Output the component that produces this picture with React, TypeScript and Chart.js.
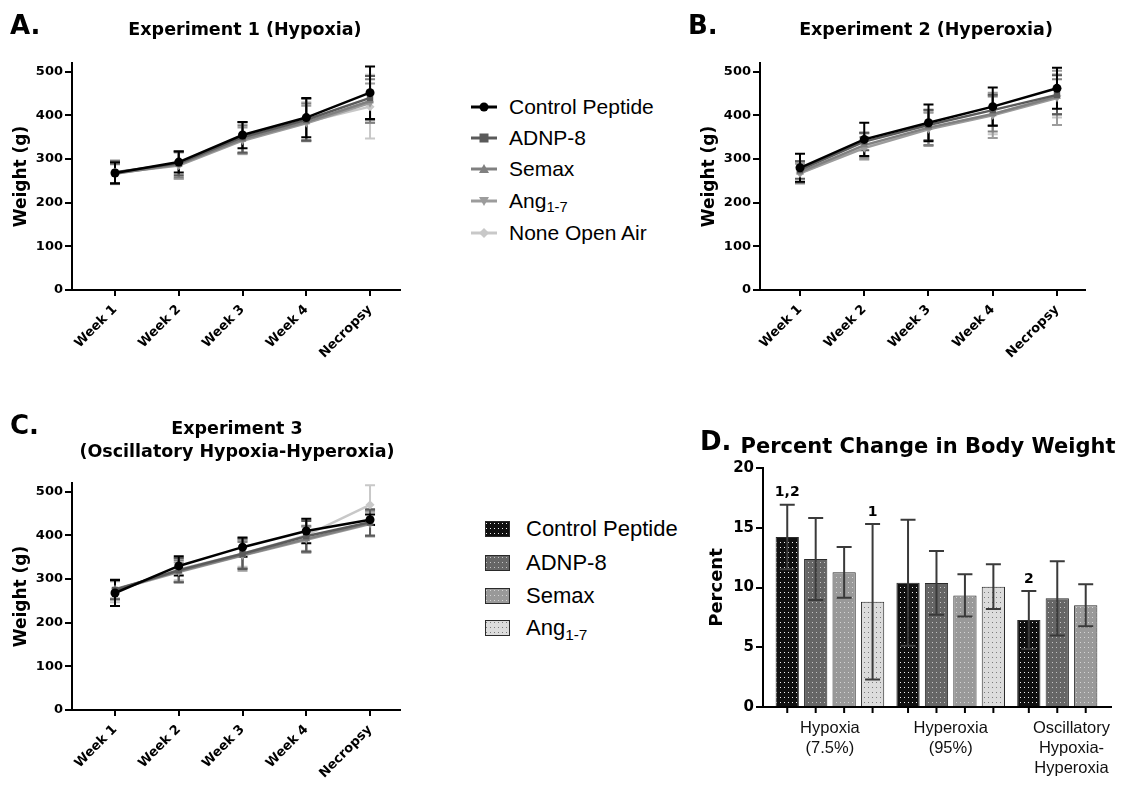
import React, { useEffect, useRef } from 'react';
import { Chart, registerables } from 'chart.js';
Chart.register(...registerables);

// ---------- DATA ----------
const weekLabels = ['Week 1', 'Week 2', 'Week 3', 'Week 4', 'Necropsy'];
const seriesNames = ['Control Peptide', 'ADNP-8', 'Semax', 'Ang1-7', 'None Open Air'];

// Experiment 1 (Hypoxia) mean weight (g) and SD
const hypoControl = [268, 293, 355, 395, 452];
const hypoControlSd = [24, 24, 30, 45, 60];
const hypoAdnp = [270, 290, 350, 390, 440];
const hypoAdnpSd = [25, 27, 35, 48, 50];
const hypoSemax = [266, 288, 345, 385, 433];
const hypoSemaxSd = [22, 30, 32, 42, 50];
const hypoAng = [268, 285, 342, 382, 428];
const hypoAngSd = [25, 30, 30, 40, 45];
const hypoNone = [270, 286, 346, 385, 420];
const hypoNoneSd = [28, 32, 35, 45, 73];

// Experiment 2 (Hyperoxia)
const hyperControl = [280, 345, 383, 420, 462];
const hyperControlSd = [32, 38, 42, 44, 47];
const hyperAdnp = [275, 340, 378, 412, 447];
const hyperAdnpSd = [20, 20, 35, 35, 45];
const hyperSemax = [270, 332, 372, 403, 443];
const hyperSemaxSd = [25, 28, 40, 40, 40];
const hyperAng = [267, 325, 368, 400, 440];
const hyperAngSd = [22, 25, 38, 52, 62];
const hyperNone = [268, 328, 370, 402, 445];
const hyperNoneSd = [25, 30, 38, 45, 50];

// Experiment 3 (Oscillatory)
const oscControl = [268, 330, 373, 410, 436];
const oscControlSd = [30, 22, 22, 28, 12];
const oscAdnp = [275, 320, 358, 398, 430];
const oscAdnpSd = [22, 28, 35, 35, 30];
const oscSemax = [277, 318, 355, 392, 428];
const oscSemaxSd = [22, 25, 30, 30, 30];
const oscAng = [275, 316, 354, 390, 426];
const oscAngSd = [20, 22, 35, 30, 28];
const oscNone = [272, 322, 358, 400, 470];
const oscNoneSd = [25, 25, 30, 35, 45];

const weightTicks = [0, 100, 200, 300, 400, 500];

// Panel D: percent change in body weight
const groupLabels = [['Hypoxia', '(7.5%)'], ['Hyperoxia', '(95%)'], ['Oscillatory', 'Hypoxia-', 'Hyperoxia']];
const barNames = ['Control Peptide', 'ADNP-8', 'Semax', 'Ang1-7'];
const pctControl = [14.23, 10.4, 7.28];
const pctControlSd = [2.7, 5.27, 2.42];
const pctAdnp = [12.38, 10.38, 9.09];
const pctAdnpSd = [3.43, 2.67, 3.11];
const pctSemax = [11.27, 9.34, 8.51];
const pctSemaxSd = [2.12, 1.77, 1.76];
const pctAng = [8.81, 10.07];
const pctAngSd = [6.5, 1.87];
const percentTicks = [0, 5, 10, 15, 20];
// significance labels: [barSeriesIndex, groupIndex, text]
const sigMarks: [number, number, string][] = [[0, 0, '1,2'], [3, 0, '1'], [0, 2, '2']];

// ---------- STYLE ----------
const BOLD = '"DejaVu Sans", sans-serif';
const REG = '"Liberation Sans", Arial, sans-serif';
const LINE_COLORS = ['#000000', '#5a5a5a', '#808080', '#9c9c9c', '#c8c8c8'];
const POINT_STYLES = ['circle', 'rect', 'triangle', 'triangle', 'rectRot'];
const POINT_ROT = [0, 0, 0, 180, 0];
const BAR_BG = ['#101010', '#666666', '#999999', '#dcdcdc'];
const BAR_DOT = ['#f0f0f0', '#c4c4c4', '#d4d4d4', '#7a7a7a'];

const lineErrorPlugin = {
  id: 'lineErr',
  beforeDatasetsDraw(chart: any) {
    const ctx = chart.ctx;
    const ys = chart.scales.y;
    const dss = chart.data.datasets;
    for (let di = dss.length - 1; di >= 0; di--) {
      const ds = dss[di];
      const meta = chart.getDatasetMeta(di);
      ctx.save();
      ctx.strokeStyle = ds.borderColor;
      ctx.lineWidth = 2;
      meta.data.forEach((pt: any, i: number) => {
        const v = ds.data[i].y;
        const top = ys.getPixelForValue(v + ds.sd[i]);
        const bot = ys.getPixelForValue(v - ds.sd[i]);
        ctx.beginPath();
        ctx.moveTo(pt.x, top); ctx.lineTo(pt.x, bot);
        ctx.moveTo(pt.x - 5, top); ctx.lineTo(pt.x + 5, top);
        ctx.moveTo(pt.x - 5, bot); ctx.lineTo(pt.x + 5, bot);
        ctx.stroke();
      });
      ctx.restore();
    }
  },
};

function lineConfig(means: number[][], sds: number[][], xMin: number, xMax: number, padRight: number) {
  return {
    type: 'line',
    data: {
      datasets: seriesNames.map((name, k) => ({
        label: name,
        data: means[k].map((v, i) => ({ x: i + 1, y: v })),
        sd: sds[k],
        borderColor: LINE_COLORS[k],
        backgroundColor: LINE_COLORS[k],
        borderWidth: 2.5,
        pointStyle: POINT_STYLES[k],
        rotation: POINT_ROT[k],
        pointRadius: 4.5,
        pointBorderWidth: 0,
        tension: 0,
      })),
    },
    options: {
      responsive: false,
      animation: false,
      devicePixelRatio: 1,
      layout: { padding: { left: 0, top: 63, right: padRight, bottom: 0 } },
      plugins: { legend: { display: false }, tooltip: { enabled: false } },
      scales: {
        x: {
          type: 'linear',
          min: xMin,
          max: xMax,
          afterBuildTicks: (s: any) => { s.ticks = weekLabels.map((_, i) => ({ value: i + 1 })); },
          afterFit: (s: any) => { s.height = 85; },
          border: { color: '#000', width: 2 },
          grid: { drawOnChartArea: false, drawTicks: true, tickLength: 6, color: '#000', lineWidth: 2 },
          ticks: {
            callback: (v: number) => weekLabels[Math.round(v) - 1],
            minRotation: 45, maxRotation: 45, autoSkip: false, padding: 6,
            color: '#000', font: { family: BOLD, weight: 'bold', size: 13 },
          },
        },
        y: {
          min: 0,
          max: 520,
          afterBuildTicks: (s: any) => { s.ticks = weightTicks.map((v) => ({ value: v })); },
          afterFit: (s: any) => { s.width = 72; },
          border: { color: '#000', width: 2 },
          grid: { drawOnChartArea: false, drawTicks: true, tickLength: 7, color: '#000', lineWidth: 2 },
          ticks: { padding: 2, color: '#000', font: { family: BOLD, weight: 'bold', size: 13 } },
          title: {
            display: true, text: 'Weight (g)', color: '#000',
            font: { family: BOLD, weight: 'bold', size: 17 }, padding: { top: 11, bottom: 0 },
          },
        },
      },
    },
    plugins: [lineErrorPlugin],
  };
}

function makePattern(bg: string, dot: string) {
  const c = document.createElement('canvas');
  c.width = 4; c.height = 5;
  const x = c.getContext('2d')!;
  x.fillStyle = bg; x.fillRect(0, 0, 4, 5);
  x.fillStyle = dot; x.fillRect(1, 2, 1, 1);
  return x.createPattern(c, 'repeat');
}

const barPlugin = {
  id: 'barExtras',
  afterDatasetsDraw(chart: any) {
    const ctx = chart.ctx;
    const ys = chart.scales.y;
    const area = chart.chartArea;
    chart.data.datasets.forEach((ds: any, di: number) => {
      const meta = chart.getDatasetMeta(di);
      meta.data.forEach((bar: any, i: number) => {
        const v = ds.data[i].y;
        const top = ys.getPixelForValue(v + ds.sd[i]);
        const bot = ys.getPixelForValue(v - ds.sd[i]);
        ctx.save();
        ctx.strokeStyle = '#3a3a3a';
        ctx.lineWidth = 2;
        ctx.beginPath();
        ctx.moveTo(bar.x, top); ctx.lineTo(bar.x, bot);
        ctx.moveTo(bar.x - 7.5, top); ctx.lineTo(bar.x + 7.5, top);
        ctx.moveTo(bar.x - 7.5, bot); ctx.lineTo(bar.x + 7.5, bot);
        ctx.stroke();
        ctx.strokeStyle = '#000';
        ctx.beginPath();
        ctx.moveTo(bar.x, area.bottom); ctx.lineTo(bar.x, area.bottom + 6);
        ctx.stroke();
        ctx.restore();
      });
    });
    ctx.save();
    ctx.fillStyle = '#000';
    ctx.font = `bold 14px ${BOLD}`;
    ctx.textAlign = 'center';
    ctx.textBaseline = 'middle';
    sigMarks.forEach(([si, gi, txt]) => {
      const ds: any = chart.data.datasets[si];
      const bar: any = chart.getDatasetMeta(si).data[gi];
      const top = ys.getPixelForValue(ds.data[gi].y + ds.sd[gi]);
      ctx.fillText(txt, bar.x, top - 12);
    });
    ctx.restore();
  },
};

function barConfig() {
  const vals = [pctControl, pctAdnp, pctSemax, pctAng];
  const sds = [pctControlSd, pctAdnpSd, pctSemaxSd, pctAngSd];
  return {
    type: 'bar',
    data: {
      datasets: barNames.map((name, k) => ({
        label: name,
        data: vals[k].map((v, i) => ({ x: i, y: v })),
        sd: sds[k],
        backgroundColor: makePattern(BAR_BG[k], BAR_DOT[k]),
        borderColor: '#2a2a2a',
        borderWidth: 1,
        categoryPercentage: 0.942,
        barPercentage: 0.818,
      })),
    },
    options: {
      responsive: false,
      animation: false,
      devicePixelRatio: 1,
      layout: { padding: { left: 0, top: 28, right: 0, bottom: 0 } },
      plugins: { legend: { display: false }, tooltip: { enabled: false } },
      scales: {
        x: {
          type: 'linear',
          offset: false,
          min: -0.554,
          max: 2.33,
          afterBuildTicks: (s: any) => { s.ticks = groupLabels.map((_, i) => ({ value: i })); },
          afterFit: (s: any) => { s.height = 78; },
          border: { color: '#000', width: 2 },
          grid: { display: false, drawTicks: false, offset: false },
          ticks: {
            callback: (v: number) => groupLabels[Math.round(v)],
            maxRotation: 0, autoSkip: false, padding: 12,
            color: '#111', font: { family: REG, size: 16.5, lineHeight: 1.2 },
          },
        },
        y: {
          min: 0,
          max: 20,
          afterBuildTicks: (s: any) => { s.ticks = percentTicks.map((v) => ({ value: v })); },
          afterFit: (s: any) => { s.width = 72; },
          border: { color: '#000', width: 2 },
          grid: { drawOnChartArea: false, drawTicks: true, tickLength: 7, color: '#000', lineWidth: 2 },
          ticks: { padding: 2, color: '#000', font: { family: BOLD, weight: 'bold', size: 15 } },
          title: {
            display: true, text: 'Percent', color: '#000',
            font: { family: BOLD, weight: 'bold', size: 18 }, padding: { top: 16, bottom: 0 },
          },
        },
      },
    },
    plugins: [barPlugin],
  };
}

function ChartBox({ make, left, top, width, height }: any) {
  const ref = useRef<HTMLCanvasElement>(null);
  useEffect(() => {
    const chart = new Chart(ref.current as HTMLCanvasElement, make());
    return () => chart.destroy();
  }, []);
  return (
    <div style={{ position: 'absolute', left, top, width, height }}>
      <canvas ref={ref} width={width} height={height} style={{ display: 'block' }} />
    </div>
  );
}

function Txt({ x, y, size, bold, children, align = 'left', w = 400 }: any) {
  const L = Math.round(size * 1.3);
  const left = align === 'center' ? x - w / 2 : x;
  return (
    <div style={{
      position: 'absolute', left, top: y - L / 2, width: w, lineHeight: `${L}px`, fontSize: size,
      fontFamily: bold ? BOLD : REG, fontWeight: bold ? 'bold' : 'normal', color: '#000',
      textAlign: align, whiteSpace: 'nowrap',
    }}>{children}</div>
  );
}

const AngLabel = () => (
  <span>Ang<sub style={{ fontSize: '0.7em', verticalAlign: '-0.3em', lineHeight: 0 }}>1-7</sub></span>
);

function LineIcon({ k }: { k: number }) {
  const c = LINE_COLORS[k];
  let marker: any = null;
  if (k === 0) marker = <circle cx={13} cy={8} r={4.5} fill={c} />;
  if (k === 1) marker = <rect x={8.5} y={3.5} width={9} height={9} fill={c} />;
  if (k === 2) marker = <polygon points="13,3 18,12 8,12" fill={c} />;
  if (k === 3) marker = <polygon points="8,4 18,4 13,13" fill={c} />;
  if (k === 4) marker = <polygon points="13,3 18,8 13,13 8,8" fill={c} />;
  return (
    <svg width={26} height={16} style={{ position: 'absolute', left: 0, top: -8 }}>
      <line x1={0} y1={8} x2={26} y2={8} stroke={c} strokeWidth={3} />
      {marker}
    </svg>
  );
}

function BarIcon({ k }: { k: number }) {
  return (
    <svg width={25} height={16} style={{ position: 'absolute', left: 0, top: -8 }}>
      <defs>
        <pattern id={`bp${k}`} width={4} height={5} patternUnits="userSpaceOnUse">
          <rect width={4} height={5} fill={BAR_BG[k]} />
          <rect x={1} y={2} width={1} height={1} fill={BAR_DOT[k]} />
        </pattern>
      </defs>
      <rect x={0.5} y={0.5} width={24} height={15} fill={`url(#bp${k})`} stroke="#2a2a2a" strokeWidth={1} />
    </svg>
  );
}

const lineLegendY = [107, 138, 169, 201, 233];
const barLegendY = [529, 563, 596, 628];

export default function App() {
  return (
    <div style={{ position: 'absolute', left: 0, top: 0, width: 1122, height: 785, background: '#fff', overflow: 'hidden' }}>
      <ChartBox left={0} top={0} width={410} height={375}
        make={() => lineConfig([hypoControl, hypoAdnp, hypoSemax, hypoAng, hypoNone],
          [hypoControlSd, hypoAdnpSd, hypoSemaxSd, hypoAngSd, hypoNoneSd], 0.3255, 5.47, 10)} />
      <ChartBox left={688} top={0} width={410} height={375}
        make={() => lineConfig([hyperControl, hyperAdnp, hyperSemax, hyperAng, hyperNone],
          [hyperControlSd, hyperAdnpSd, hyperSemaxSd, hyperAngSd, hyperNoneSd], 0.3774, 5.436, 13)} />
      <ChartBox left={0} top={420} width={410} height={375}
        make={() => lineConfig([oscControl, oscAdnp, oscSemax, oscAng, oscNone],
          [oscControlSd, oscAdnpSd, oscSemaxSd, oscAngSd, oscNoneSd], 0.3255, 5.47, 10)} />
      <ChartBox left={691} top={440} width={431} height={345} make={barConfig} />

      <Txt x={10} y={25} size={26} bold>A.</Txt>
      <Txt x={245} y={29} size={17.5} bold align="center">Experiment 1 (Hypoxia)</Txt>
      <Txt x={688} y={25} size={26} bold>B.</Txt>
      <Txt x={926} y={29} size={17.5} bold align="center">Experiment 2 (Hyperoxia)</Txt>
      <Txt x={10} y={425} size={26} bold>C.</Txt>
      <Txt x={237} y={428} size={17.5} bold align="center">Experiment 3</Txt>
      <Txt x={237} y={451} size={17.5} bold align="center">(Oscillatory Hypoxia-Hyperoxia)</Txt>
      <Txt x={700} y={441} size={26} bold>D.</Txt>
      <Txt x={928} y={446} size={21} bold align="center">Percent Change in Body Weight</Txt>

      {seriesNames.map((n, k) => (
        <div key={n} style={{ position: 'absolute', left: 471, top: lineLegendY[k], width: 230 }}>
          <LineIcon k={k} />
          <div style={{ position: 'absolute', left: 38, top: -13, lineHeight: '26px', fontSize: 21, fontFamily: REG, color: '#000', whiteSpace: 'nowrap' }}>
            {k === 3 ? <AngLabel /> : n}
          </div>
        </div>
      ))}
      {barNames.map((n, k) => (
        <div key={n} style={{ position: 'absolute', left: 485, top: barLegendY[k], width: 230 }}>
          <BarIcon k={k} />
          <div style={{ position: 'absolute', left: 41, top: -14, lineHeight: '28px', fontSize: 22, fontFamily: REG, color: '#000', whiteSpace: 'nowrap' }}>
            {k === 3 ? <AngLabel /> : n}
          </div>
        </div>
      ))}
    </div>
  );
}
